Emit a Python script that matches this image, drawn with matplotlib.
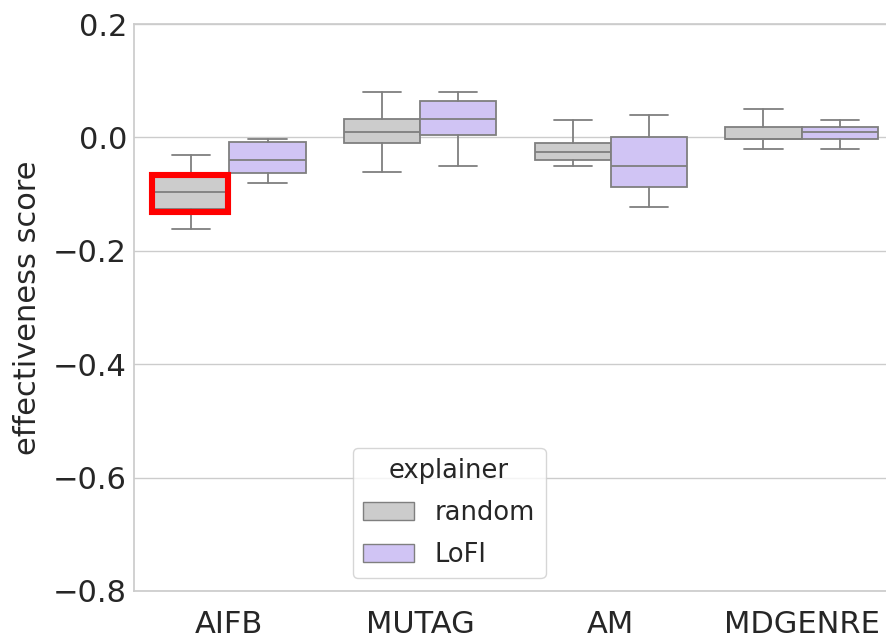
import matplotlib
matplotlib.use("Agg")
import matplotlib.pyplot as plt
from matplotlib.patches import Patch, Rectangle
import seaborn as sns

# box statistics (whislo, q1, med, q3, whishi)
datasets = ["AIFB", "MUTAG", "AM", "MDGENRE"]
explainers = ["random", "LoFI"]

random_whislo = [-0.162, -0.061, -0.051, -0.021]
random_q1 = [-0.127, -0.010, -0.040, -0.002]
random_med = [-0.097, 0.009, -0.026, -0.002]
random_q3 = [-0.068, 0.033, -0.010, 0.019]
random_whishi = [-0.031, 0.080, 0.031, 0.050]

lofi_whislo = [-0.080, -0.051, -0.122, -0.021]
lofi_q1 = [-0.062, 0.004, -0.088, -0.002]
lofi_med = [-0.040, 0.033, -0.051, 0.009]
lofi_q3 = [-0.008, 0.065, 0.000, 0.019]
lofi_whishi = [-0.002, 0.080, 0.040, 0.031]

yticks = [-0.8, -0.6, -0.4, -0.2, 0.0, 0.2]

colors = {"random": "#cccccc", "LoFI": "#d0c4f4"}
edge = "#7f7f7f"


def make_stats(lo, q1, med, q3, hi):
	stats = []
	for i in range(len(lo)):
		stats.append({"whislo": lo[i], "q1": q1[i], "med": med[i],
					  "q3": q3[i], "whishi": hi[i], "fliers": []})
	return stats


sns.set_theme(style="whitegrid")
plt.rcParams["font.family"] = ["DejaVu Sans"]

fig = plt.figure(figsize=(8.86, 6.39), dpi=100)
ax = fig.add_axes([0.15124, 0.07512, 0.86117, 0.88732])

series = {
	"random": make_stats(random_whislo, random_q1, random_med, random_q3, random_whishi),
	"LoFI": make_stats(lofi_whislo, lofi_q1, lofi_med, lofi_q3, lofi_whishi),
}
offsets = {"random": -0.2, "LoFI": 0.2}

for name in explainers:
	pos = [i + offsets[name] for i in range(len(datasets))]
	lw = 1.3
	ax.bxp(series[name], positions=pos, widths=0.4, capwidths=0.2,
		   patch_artist=True, showfliers=False,
		   boxprops=dict(facecolor=colors[name], edgecolor=edge, linewidth=lw),
		   medianprops=dict(color=edge, linewidth=lw),
		   whiskerprops=dict(color=edge, linewidth=lw),
		   capprops=dict(color=edge, linewidth=lw))

# highlight box around AIFB / random
ax.add_patch(Rectangle((-0.405, -0.1316), 0.398, 0.0659, fill=False,
					   edgecolor="#ff0000", linewidth=4.4, zorder=5))

ax.set_xlim(-0.5, 3.5)
ax.set_ylim(-0.8, 0.2)
ax.set_xticks(range(len(datasets)))
ax.set_xticklabels(datasets)
ax.set_yticks(yticks)
ax.tick_params(axis="x", labelsize=22, pad=13.5, length=0)
ax.tick_params(axis="y", labelsize=22, pad=5, length=0)
ax.xaxis.grid(False)
ax.set_ylabel("effectiveness score", fontsize=22, labelpad=8)

handles = [Patch(facecolor=colors[n], edgecolor=edge, label=n) for n in explainers]
ax.legend(handles=handles, title="explainer", fontsize=18.5, title_fontsize=18.5,
		  labelspacing=0.62, loc="lower left", bbox_to_anchor=(0.2866, 0.0224),
		  borderaxespad=0)

fig.savefig("out.png", dpi=100)
